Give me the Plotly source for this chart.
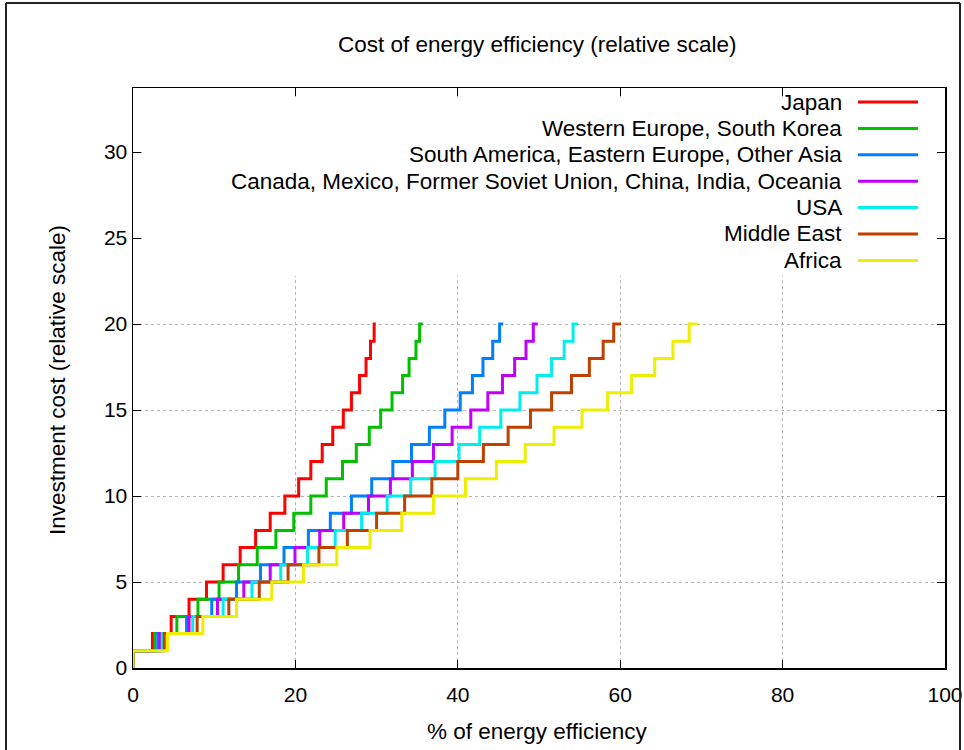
import plotly.graph_objects as go

# ---------------- data ----------------
cost_levels = list(range(0, 21))  # investment cost steps (relative scale)

series_names = [
    "Japan",
    "Western Europe, South Korea",
    "South America, Eastern Europe, Other Asia",
    "Canada, Mexico, Former Soviet Union, China, India, Oceania",
    "USA",
    "Middle East",
    "Africa",
]

# % of energy efficiency reached at each cost level
japan = [0, 2.4, 4.7, 6.9, 9.05, 11.1, 13.2, 15.1, 16.9, 18.7, 20.4,
         21.9, 23.3, 24.6, 25.9, 26.9, 27.9, 28.7, 29.25, 29.7, 29.9]
western_europe = [0, 2.7, 5.4, 8.0, 10.6, 13.0, 15.3, 17.6, 19.8, 21.9, 23.8,
                  25.8, 27.5, 29.1, 30.5, 31.9, 33.2, 34.0, 34.85, 35.3, 35.7]
south_america = [0, 3.05, 6.6, 9.7, 12.75, 15.7, 18.6, 21.6, 24.3, 26.9, 29.4,
                 32.0, 34.3, 36.5, 38.4, 40.3, 41.8, 43.1, 44.3, 45.15, 45.6]
canada_etc = [0, 3.3, 6.9, 10.4, 13.65, 16.9, 19.95, 23.0, 25.95, 29.0, 31.7,
              34.4, 37.0, 39.3, 41.6, 43.7, 45.5, 47.0, 48.4, 49.3, 49.85]
usa = [0, 3.6, 7.35, 11.1, 14.65, 18.2, 21.5, 24.9, 28.15, 31.3, 34.2,
       37.2, 40.15, 42.7, 45.3, 47.65, 49.75, 51.55, 53.1, 54.2, 54.8]
middle_east = [0, 3.85, 7.9, 11.8, 15.55, 19.1, 22.9, 26.4, 30.0, 33.45, 36.8,
               40.0, 43.15, 46.2, 48.95, 51.55, 54.0, 56.2, 57.9, 59.2, 60.1]
africa = [0, 4.25, 8.6, 12.75, 17.1, 21.0, 25.1, 29.2, 33.1, 37.0, 40.95,
          44.75, 48.3, 51.85, 55.3, 58.45, 61.4, 64.25, 66.5, 68.5, 69.6]

series_values = [japan, western_europe, south_america, canada_etc, usa, middle_east, africa]
series_colors = ["#ff0000", "#00c000", "#0080ff", "#c000ff", "#00eeee", "#c04000", "#eeee00"]

x_ticks = [0, 20, 40, 60, 80, 100]
y_ticks = [0, 5, 10, 15, 20, 25, 30]

title_text = "Cost of energy efficiency (relative scale)"
x_title = "% of energy efficiency"
y_title = "Investment cost (relative scale)"

# ---------------- layout geometry (pixels) ----------------
W, H = 964, 750
L, R, T, B = 133, 945, 88, 668
FONT = "Liberation Sans, Arial, sans-serif"
TXT = 22.5


def px(x):
    return (x - L) / (R - L)


def py(y):
    return (B - y) / (B - T)


fig = go.Figure()
for name, xs, col in zip(series_names, series_values, series_colors):
    fig.add_trace(go.Scatter(
        x=xs, y=cost_levels, mode="lines", name=name,
        line=dict(color=col, width=3, shape="vh"),
        showlegend=False,
    ))

shapes = []
annotations = []

# opaque key background
shapes.append(dict(type="rect", xref="paper", yref="paper",
                   x0=px(142), x1=px(936), y0=py(276), y1=py(97),
                   fillcolor="white", line=dict(width=0), layer="above"))

# key entries: right-aligned text and line sample on the right
for i, (name, col) in enumerate(zip(series_names, series_colors)):
    yc = 102 + i * 26.4
    annotations.append(dict(text=name, xref="paper", yref="paper",
                            x=px(844), y=py(yc), xanchor="right", yanchor="middle",
                            showarrow=False, font=dict(family=FONT, size=TXT, color="black")))
    shapes.append(dict(type="line", xref="paper", yref="paper",
                       x0=px(858), x1=px(918), y0=py(yc), y1=py(yc),
                       line=dict(color=col, width=3), layer="above"))

# axis titles
annotations.append(dict(text=x_title, xref="paper", yref="paper",
                        x=px(537), y=py(731), xanchor="center", yanchor="middle",
                        showarrow=False, font=dict(family=FONT, size=TXT, color="black")))
annotations.append(dict(text=y_title, xref="paper", yref="paper",
                        x=px(57), y=py(380), xanchor="center", yanchor="middle", textangle=-90,
                        showarrow=False, font=dict(family=FONT, size=TXT, color="black")))
# title
annotations.append(dict(text=title_text, xref="paper", yref="paper",
                        x=px(537), y=py(44), xanchor="center", yanchor="middle",
                        showarrow=False, font=dict(family=FONT, size=TXT, color="black")))

# outer frame of the picture
for (xa, ya, xb, yb) in [(6, 3, 960, 3), (6, 3, 6, 760), (960, 3, 960, 760)]:
    shapes.append(dict(type="line", xref="paper", yref="paper",
                       x0=px(xa), x1=px(xb), y0=py(ya), y1=py(yb),
                       line=dict(color="#222222", width=2), layer="above"))

axis_common = dict(
    showline=True, linecolor="black", linewidth=1.5, mirror="allticks",
    ticks="inside", ticklen=8, tickwidth=1, tickcolor="black",
    showgrid=True, gridcolor="#b4b4b4", gridwidth=1, griddash="dot",
    zeroline=False, tickfont=dict(family=FONT, size=21, color="black"),
)

fig.update_layout(
    width=W, height=H,
    margin=dict(l=L, r=W - R, t=T, b=H - B, autoexpand=False),
    paper_bgcolor="white", plot_bgcolor="white",
    showlegend=False,
    xaxis=dict(range=[0, 100], tickvals=x_ticks, ticklabelstandoff=7, **axis_common),
    yaxis=dict(range=[0, (B - T) / 17.2], tickvals=y_ticks, ticklabelstandoff=0, **axis_common),
    shapes=shapes,
    annotations=annotations,
    font=dict(family=FONT, color="black"),
)

fig.write_html("out.html",
               config={"displayModeBar": False, "staticPlot": True},
               post_script="document.body.style.margin='0px';document.body.style.overflow='hidden';")
